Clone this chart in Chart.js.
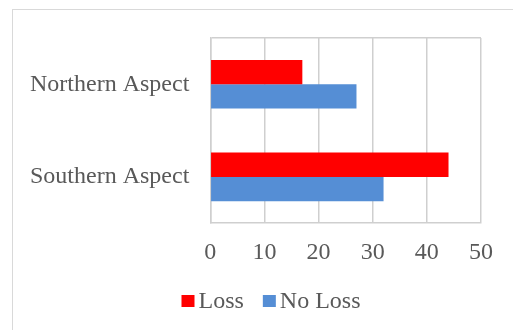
<!DOCTYPE html>
<html>
<head>
<meta charset="utf-8">
<script src="https://cdn.jsdelivr.net/npm/chart.js@4/dist/chart.umd.min.js"></script>
<style>
  html, body { margin: 0; padding: 0; background: #ffffff; }
  body { width: 513px; height: 330px; position: relative; overflow: hidden; }
  #frame {
    position: absolute; left: 12px; top: 9px; width: 600px; height: 400px;
    border: 1.5px solid #d9d9d9; box-sizing: border-box;
  }
  #wrap { position: absolute; left: 0; top: 0; width: 513px; height: 330px; }
</style>
</head>
<body>
<div id="frame"></div>
<div id="wrap"><canvas id="chart" width="513" height="330"></canvas></div>
<script>
// Categories and series
const categories = ['Northern Aspect', 'Southern Aspect'];
const lossValues = [17, 44];
const noLossValues = [27, 32];
const seriesNames = ['Loss', 'No Loss'];
const tickValues = [0, 10, 20, 30, 40, 50];

const FONT = "'Liberation Serif', 'Times New Roman', serif";
const TEXT = '#595959';
const GRID = '#cfcfcf';

// Legend drawn below the axis: small square swatch, tight gap to the text
const bottomLegend = {
  id: 'bottomLegend',
  afterDraw(chart, args, opts) {
    const ctx = chart.ctx;
    ctx.save();
    ctx.font = '24px ' + FONT;
    ctx.textBaseline = 'middle';
    ctx.textAlign = 'left';
    const box = 12, gap = 5, itemGap = 19;
    const items = chart.data.datasets.map(ds => ({
      label: ds.label, color: ds.backgroundColor, w: ctx.measureText(ds.label).width
    }));
    const total = items.reduce((s, it) => s + box + gap + it.w, 0) + itemGap * (items.length - 1);
    let x = opts.centerX - total / 2;
    const y = opts.y;
    items.forEach(it => {
      ctx.fillStyle = it.color;
      ctx.fillRect(x, y - box / 2 - 1, box + 1, box);
      ctx.fillStyle = TEXT;
      ctx.fillText(it.label, x + box + gap, y);
      x += box + gap + it.w + itemGap;
    });
    ctx.restore();
  }
};

new Chart(document.getElementById('chart'), {
  type: 'bar',
  data: {
    labels: categories,
    datasets: [
      { label: seriesNames[0], data: lossValues, backgroundColor: '#ff0000' },
      { label: seriesNames[1], data: noLossValues, backgroundColor: '#558ed5' }
    ]
  },
  options: {
    indexAxis: 'y',
    responsive: false,
    animation: false,
    devicePixelRatio: 1,
    layout: { padding: { left: 9, right: 32, top: 38, bottom: 48 } },
    datasets: { bar: { categoryPercentage: 0.525, barPercentage: 1.0 } },
    plugins: {
      legend: { display: false },
      tooltip: { enabled: false },
      bottomLegend: { centerX: 271, y: 302 }
    },
    scales: {
      x: {
        min: 0, max: 50,
        afterBuildTicks(scale) { scale.ticks = tickValues.map(v => ({ value: v })); },
        ticks: { color: TEXT, font: { family: FONT, size: 24 }, padding: 15 },
        grid: { color: GRID, lineWidth: 1.5, drawTicks: false },
        border: { color: GRID, width: 1.5 }
      },
      y: {
        ticks: { color: TEXT, font: { family: FONT, size: 24 }, padding: 21 },
        grid: {
          offset: true,
          drawTicks: false,
          lineWidth: 1.5,
          color: c => (c.index === 0 || c.index === categories.length) ? GRID : 'rgba(0,0,0,0)'
        },
        border: { color: GRID, width: 1.5 }
      }
    }
  },
  plugins: [bottomLegend]
});
</script>
</body>
</html>
